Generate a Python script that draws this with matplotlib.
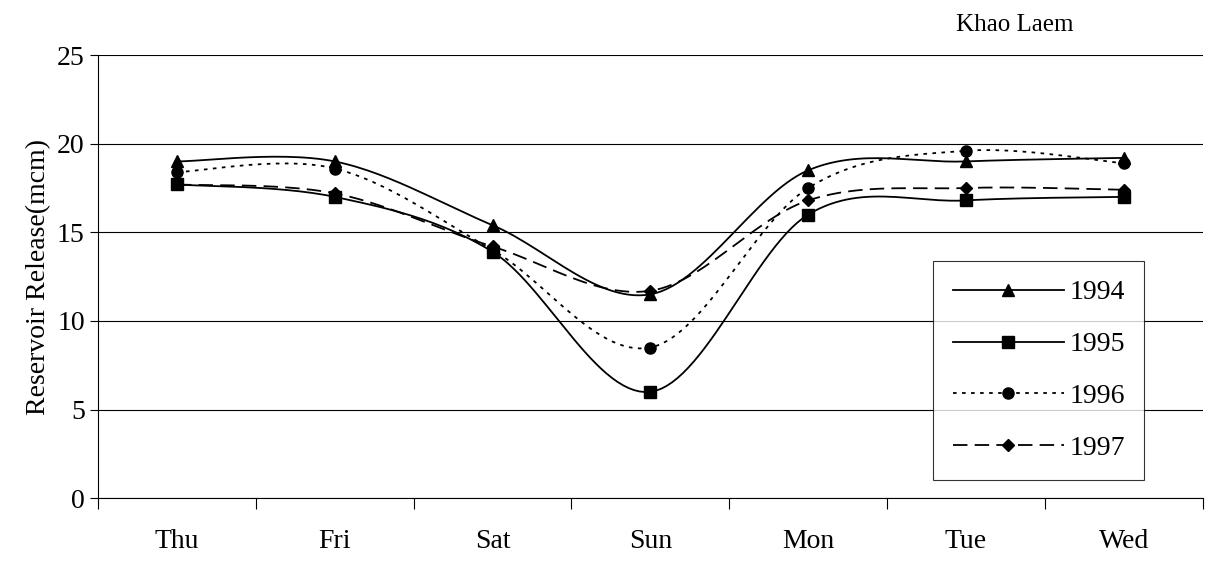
import matplotlib
matplotlib.use('Agg')
import matplotlib.pyplot as plt
import numpy as np

plt.rcParams['font.family'] = ['Liberation Serif', 'DejaVu Serif']

days = ['Thu', 'Fri', 'Sat', 'Sun', 'Mon', 'Tue', 'Wed']
y1994 = [19.0, 19.0, 15.4, 11.5, 18.5, 19.0, 19.2]
y1995 = [17.7, 17.0, 13.9, 6.0, 16.0, 16.8, 17.0]
y1996 = [18.4, 18.6, 14.0, 8.5, 17.5, 19.6, 18.9]
y1997 = [17.7, 17.2, 14.2, 11.7, 16.8, 17.5, 17.4]


def smooth(y, n=30):
    # Catmull-Rom style curve like Excel's smoothed line
    x = np.arange(len(y), dtype=float)
    y = np.asarray(y, dtype=float)
    px = np.concatenate([[x[0]], x, [x[-1]]])
    py = np.concatenate([[y[0]], y, [y[-1]]])
    xs, ys = [], []
    for i in range(1, len(px) - 2):
        p0, p1, p2, p3 = [np.array([px[j], py[j]]) for j in (i - 1, i, i + 1, i + 2)]
        c1 = p1 + (p2 - p0) / 6
        c2 = p2 - (p3 - p1) / 6
        t = np.linspace(0, 1, n)[:, None]
        pts = (1 - t) ** 3 * p1 + 3 * (1 - t) ** 2 * t * c1 + 3 * (1 - t) * t ** 2 * c2 + t ** 3 * p2
        xs.extend(pts[:, 0]); ys.extend(pts[:, 1])
    return np.array(xs), np.array(ys)


fig = plt.figure(figsize=(12.1, 5.68), dpi=100)
ax = fig.add_axes([0.081, 0.123, 0.913, 0.78])

series = [
    ('1994', y1994, '-', '^', 9),
    ('1995', y1995, '-', 's', 8),
    ('1996', y1996, (0, (2, 3)), 'o', 8),
    ('1997', y1997, (0, (8, 4)), 'D', 6),
]
x = np.arange(len(days))
for name, vals, ls, mk, ms in series:
    sx, sy = smooth(vals)
    ax.plot(sx, sy, color='black', linestyle=ls, linewidth=1.3)
    ax.plot(x, vals, linestyle='none', marker=mk, color='black', markersize=ms)
    ax.plot([], [], color='black', linestyle=ls, marker=mk, markersize=ms, linewidth=1.3, label=name)

ax.set_xlim(-0.5, 6.5)
ax.set_ylim(0, 25)
ax.set_yticks(range(0, 26, 5))
ax.set_xticks(np.arange(-0.5, 7, 1))
ax.set_xticklabels([])
ax.set_xticks(x, minor=True)
ax.set_xticklabels(days, minor=True)
ax.tick_params(axis='x', which='minor', length=0, pad=22, labelsize=20)
ax.tick_params(axis='x', which='major', length=8, direction='out')
ax.tick_params(axis='y', labelsize=20, length=6)
ax.yaxis.grid(True, color='black', linewidth=0.8)
ax.set_axisbelow(True)
for s in ['top', 'right']:
    ax.spines[s].set_visible(False)
ax.set_ylabel('Reservoir Release(mcm)', fontsize=20)

leg = ax.legend(loc='lower right', bbox_to_anchor=(0.947, 0.04), fontsize=20, frameon=True,
                fancybox=False, edgecolor='black', handlelength=4.0, labelspacing=0.95,
                borderpad=0.7, handletextpad=0.2, borderaxespad=0)
leg.get_frame().set_linewidth(0.8)

fig.text(0.79, 0.945, 'Khao Laem', fontsize=18)
fig.savefig('out.png')
